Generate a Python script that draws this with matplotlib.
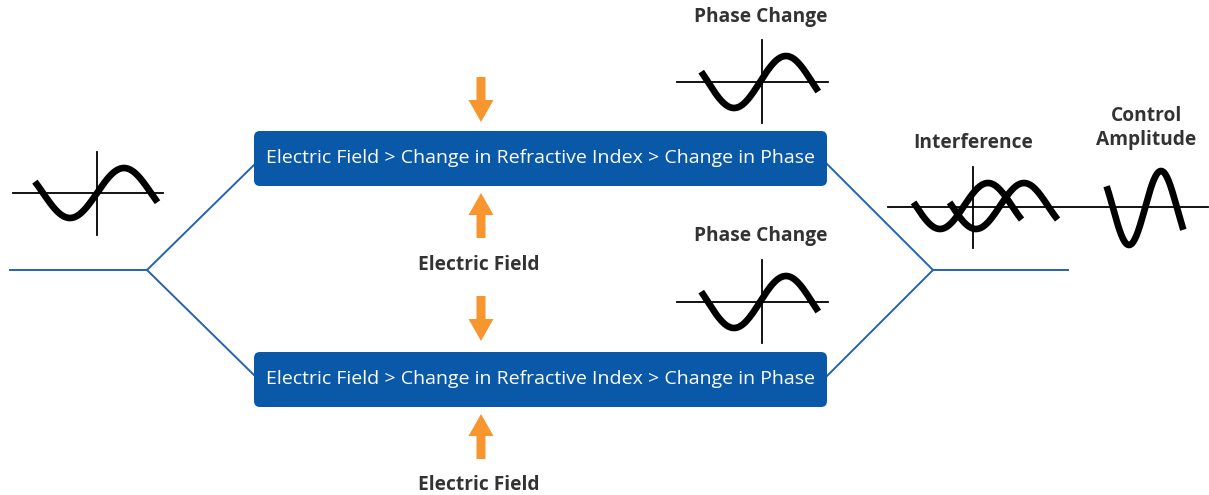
import numpy as np
import matplotlib.pyplot as plt
from matplotlib.patches import FancyBboxPatch, FancyArrow

plt.rcParams['font.family'] = ['Open Sans', 'DejaVu Sans']

# diagram texts
box_text = "Electric Field > Change in Refractive Index > Change in Phase"
field_label = "Electric Field"
phase_label = "Phase Change"
interf_label = "Interference"
ctrl_label = "Control\nAmplitude"

BLUE = '#0A59A9'
LINE = '#2463B0'
ORANGE = '#F7952E'
DARK = '#333333'

fig = plt.figure(figsize=(12.09, 4.95), dpi=100)
ax = fig.add_axes([0, 0, 1, 1])
ax.set_xlim(0, 1209)
ax.set_ylim(495, 0)
ax.axis('off')


def wave(cx, cy, amp, half, t0, t1, lw=4.8):
    # one sine glyph, centre at (cx, cy), half period in px
    t = np.linspace(t0 * np.pi, t1 * np.pi, 200)
    ax.plot(cx + t * half / np.pi, cy - amp * np.sin(t), color='black', lw=lw,
            solid_capstyle='butt', zorder=4)


def axes_cross(x0, x1, cy, cx, y0, y1):
    ax.plot([x0, x1], [cy, cy], color='black', lw=1.3, zorder=3)
    ax.plot([cx, cx], [y0, y1], color='black', lw=1.3, zorder=3)


# blue lines (interferometer arms)
ax.plot([10, 147], [270, 270], color=LINE, lw=1.4)
ax.plot([147, 256], [270, 163], color=LINE, lw=1.4)
ax.plot([147, 256], [270, 377], color=LINE, lw=1.4)
ax.plot([826, 933], [163, 270], color=LINE, lw=1.4)
ax.plot([826, 933], [377, 270], color=LINE, lw=1.4)
ax.plot([933, 1068], [270, 270], color=LINE, lw=1.4)

# boxes
for top in (131, 352):
    ax.add_patch(FancyBboxPatch((254, top), 573, 55,
                                boxstyle='round,pad=0,rounding_size=6',
                                fc=BLUE, ec='none', zorder=2))
    ax.text(540, top + 27, box_text, color='white', fontsize=14,
            ha='center', va='center', zorder=5)

# orange arrows
for y_tail, y_len in ((77, 45), (296, 45), (238, -45), (459, -45)):
    ax.add_patch(FancyArrow(481, y_tail, 0, y_len, width=9, head_width=25,
                            head_length=22, length_includes_head=True,
                            fc=ORANGE, ec='none', zorder=3))

lab = dict(color=DARK, fontsize=13.8, fontweight='bold', ha='center', va='center')
for y in (265, 485):
    ax.text(479, y, field_label, **lab)

for y in (17, 236):
    ax.text(761, y, phase_label, **lab)

ax.text(973, 143, interf_label, **lab)
ax.text(1146, 128, ctrl_label, linespacing=1.3, **lab)

# input wave
axes_cross(13, 163, 193, 97, 152, 235)
wave(97, 193, 25, 54, -1.15, 1.12)

# phase changed waves
for dy in (0, 220):
    axes_cross(677, 828, 82 + dy, 762, 40 + dy, 123 + dy)
    wave(760, 82 + dy, 26, 52, -1.13, 1.12)

# interference
axes_cross(888, 1208, 207, 973, 167, 248)
wave(964, 206, 23, 48, -1.05, 1.2)
wave(1000, 206, 23, 48, -1.05, 1.2)

# controlled amplitude
wave(1145, 208, 37, 32, -1.2, 1.2)

fig.savefig('out.png', dpi=100)
